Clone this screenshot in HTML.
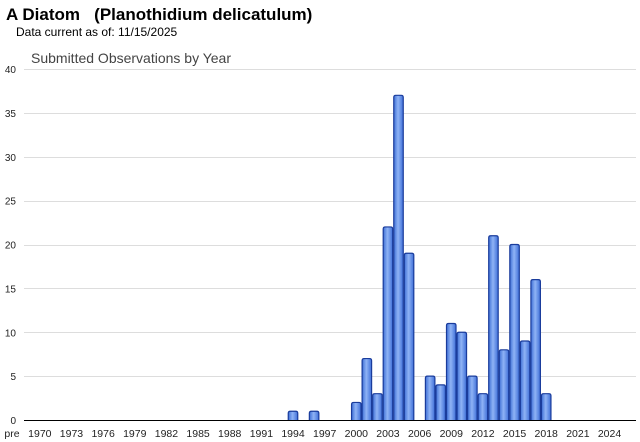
<!DOCTYPE html><html><head><style>body{margin:0;background:#fff}svg{display:block}</style></head><body>
<svg width="640" height="442" xmlns="http://www.w3.org/2000/svg" font-family="Liberation Sans, Arial, sans-serif">
<defs><linearGradient id="g" x1="0" x2="1" y1="0" y2="0"><stop offset="0" stop-color="#3e6fd6"/><stop offset="0.45" stop-color="#8fb3f5"/><stop offset="1" stop-color="#3f6fd8"/></linearGradient></defs>
<text x="6" y="20" font-size="17" font-weight="bold" fill="#000">A Diatom &#160; (Planothidium delicatulum)</text>
<text x="16" y="36" font-size="12" fill="#000">Data current as of: 11/15/2025</text>
<text x="31" y="63" font-size="14" fill="#444">Submitted Observations by Year</text>
<g id="grid" stroke="#ddd" stroke-width="1"></g>
<g id="yl" font-size="10" fill="#222" text-anchor="end"></g>
<g id="bars"></g>
<line x1="24" x2="636" y1="420.5" y2="420.5" stroke="#000"/>
<g id="xl" font-size="10.5" fill="#222" text-anchor="middle"></g>
<script>
var ns="http://www.w3.org/2000/svg";
function el(p,t,a,txt){var e=document.createElementNS(ns,t);for(var k in a)e.setAttribute(k,a[k]);if(txt!=null)e.textContent=txt;document.getElementById(p).appendChild(e);}
for(var v=5;v<=40;v+=5){var y=Math.round(420-v*8.775)+0.5;el("grid","line",{x1:24,x2:636,y1:y,y2:y});}
for(var v=0;v<=40;v+=5){el("yl","text",{x:16,y:420-v*8.775+4},v);}
var d={1994:1,1996:1,2000:2,2001:7,2002:3,2003:22,2004:37,2005:19,2007:5,2008:4,2009:11,2010:10,2011:5,2012:3,2013:21,2014:8,2015:20,2016:9,2017:16,2018:3};
var w=10.55;
for(var yr in d){var s=yr-1969,x=24+s*w+0.5,h=d[yr]*8.775,t=420-h,r=2;
el("bars","path",{d:"M"+x+",420 V"+(t+r)+" Q"+x+","+t+" "+(x+r)+","+t+" H"+(x+9.5-r)+" Q"+(x+9.5)+","+t+" "+(x+9.5)+","+(t+r)+" V420",fill:"url(#g)",stroke:"#1a3c9c","stroke-width":1.2});}
el("xl","text",{x:12,y:437},"pre");
for(var yr=1970;yr<=2024;yr+=3){var s=yr-1969;el("xl","text",{x:24+(s+0.5)*w,y:437},yr);}
</script>
</svg></body></html>
